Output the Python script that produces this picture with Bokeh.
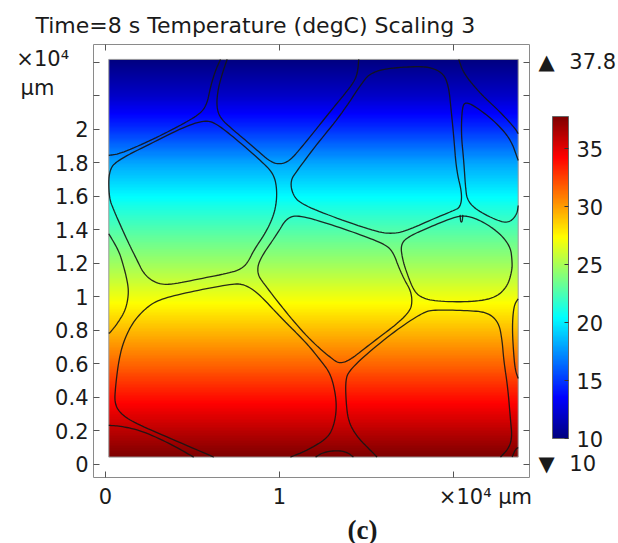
import numpy as np
from bokeh.plotting import figure
from bokeh.models import (LinearColorMapper, ColorBar, FixedTicker, LinearAxis,
                          Title, Range1d)
from bokeh.embed import file_html
from bokeh.resources import INLINE

# ---------------- data ----------------
title_text = "Time=8 s Temperature (degC) Scaling 3"
panel_tag = "(c)"
# two blank lines lift the unit block below the frame top; trailing spaces align it
unit_y = "\u2003\n\u2003\n\u00d710\u2074\n\u03bcm\u2002\u2009"
unit_x = "\u00d710\u2074 \u03bcm"
t_min, t_max = 10.0, 37.8

# temperature (x10^4 um)
profile_y = [0.044, 0.2, 0.4, 0.6, 0.8, 1.0, 1.2, 1.4, 1.6, 1.8, 2.0, 2.2, 2.418]
profile_T = [37.8, 36.1, 33.8, 31.5, 29.2, 26.9, 24.7, 22.6, 20.4, 18.0, 14.8, 12.0, 10.0]

domain_x = [0.019, 2.372]
domain_y = [0.044, 2.418]

x_ticks = [0, 1, 2]
x_tick_labels = ["0", "1", "\u2007" * 4 + "\u2002" + unit_x]
y_ticks = [0, 0.2, 0.4, 0.6, 0.8, 1, 1.2, 1.4, 1.6, 1.8, 2]
y_tick_labels = ["0", "0.2", "0.4", "0.6", "0.8", "1", "1.2", "1.4", "1.6", "1.8", "2"]
y_ticks_unlabeled = [2.2, 2.4]
cbar_ticks = [10, 15, 20, 25, 30, 35]
range_ticks = [0, 2.4]
range_labels = ["\u25bc\u2002\u2009" + "10", "\u25b2\u2002\u2009" + "37.8"]

# grain boundaries (x, y) in x10^4 um
grain_a = [(0.019, 1.845), (0.086, 1.855), (0.259, 1.934), (0.431, 2.024), (0.546, 2.094),
           (0.584, 2.153), (0.603, 2.253), (0.632, 2.352), (0.661, 2.418)]
grain_b = [(0.699, 2.418), (0.671, 2.333), (0.645, 2.233), (0.638, 2.133), (0.661, 2.064),
           (0.737, 1.994), (0.852, 1.894), (0.948, 1.805), (1.006, 1.791), (1.063, 1.815),
           (1.159, 1.934), (1.312, 2.133), (1.408, 2.253), (1.447, 2.322), (1.456, 2.418)]
grain_c = [(0.019, 1.765), (0.019, 1.596), (0.048, 1.516), (0.125, 1.337), (0.182, 1.218),
           (0.220, 1.138), (0.278, 1.088), (0.355, 1.069), (0.546, 1.109), (0.737, 1.148),
           (0.795, 1.178), (0.824, 1.218), (0.852, 1.278), (0.929, 1.397), (0.977, 1.516),
           (0.987, 1.636), (0.967, 1.736), (0.891, 1.815), (0.737, 1.954), (0.632, 2.038),
           (0.575, 2.054), (0.470, 2.024), (0.259, 1.915), (0.086, 1.825)]
grain_d = [(1.102, 1.755), (1.217, 1.915), (1.351, 2.084), (1.484, 2.293), (1.523, 2.333),
           (1.599, 2.362), (1.772, 2.376), (1.868, 2.372), (1.944, 2.333), (1.973, 2.253),
           (1.987, 2.113), (2.002, 1.954), (2.017, 1.755), (2.050, 1.616), (2.040, 1.536),
           (2.002, 1.516), (1.887, 1.467), (1.734, 1.397), (1.657, 1.377), (1.561, 1.387),
           (1.312, 1.476), (1.121, 1.556), (1.073, 1.616), (1.063, 1.696)]
grain_top_right = [(2.030, 2.418), (2.059, 2.333), (2.155, 2.213), (2.270, 2.103),
                   (2.356, 2.004), (2.372, 1.974)]
grain_e = [(2.372, 1.815), (2.328, 1.944), (2.232, 2.054), (2.117, 2.143), (2.069, 2.163),
           (2.050, 2.133), (2.044, 1.974), (2.059, 1.815), (2.069, 1.656), (2.079, 1.576),
           (2.136, 1.516), (2.270, 1.447), (2.328, 1.447), (2.366, 1.497), (2.372, 1.546)]
grain_f = [(1.044, 1.476), (1.121, 1.487), (1.312, 1.427), (1.504, 1.357), (1.619, 1.307),
           (1.657, 1.258), (1.685, 1.178), (1.720, 1.099), (1.753, 1.039), (1.763, 0.979),
           (1.753, 0.919), (1.677, 0.840), (1.523, 0.720), (1.408, 0.625), (1.351, 0.603),
           (1.312, 0.621), (1.178, 0.740), (1.044, 0.900), (0.910, 1.079), (0.872, 1.138),
           (0.881, 1.218), (0.987, 1.377)]
grain_g = [(1.695, 1.318), (1.753, 1.367), (1.887, 1.427), (2.002, 1.476), (2.079, 1.487),
           (2.174, 1.447), (2.270, 1.377), (2.328, 1.297), (2.337, 1.218), (2.337, 1.158),
           (2.309, 1.059), (2.232, 0.989), (2.079, 0.969), (1.887, 0.975), (1.810, 0.999),
           (1.772, 1.039), (1.740, 1.120), (1.708, 1.218)]
grain_notch = [(2.038, 1.490), (2.041, 1.447), (2.050, 1.447), (2.054, 1.490)]
grain_h = [(0.622, 0.044), (0.355, 0.163), (0.161, 0.251), (0.086, 0.304), (0.052, 0.364),
           (0.057, 0.461), (0.076, 0.621), (0.105, 0.740), (0.163, 0.860), (0.259, 0.959),
           (0.355, 0.999), (0.546, 1.043), (0.737, 1.079), (0.795, 1.075), (0.872, 1.029),
           (1.006, 0.879), (1.159, 0.721), (1.236, 0.621), (1.293, 0.543), (1.322, 0.424),
           (1.328, 0.322), (1.310, 0.223), (1.274, 0.155), (1.159, 0.084), (1.063, 0.044)]
grain_i = [(0.019, 0.233), (0.086, 0.229), (0.201, 0.203), (0.355, 0.133), (0.507, 0.044)]
grain_l = [(1.207, 0.044), (1.253, 0.073), (1.332, 0.084), (1.389, 0.073), (1.425, 0.044)]
grain_j = [(1.561, 0.044), (1.523, 0.084), (1.447, 0.163), (1.397, 0.253), (1.383, 0.364),
           (1.379, 0.501), (1.400, 0.560), (1.523, 0.680), (1.695, 0.820), (1.829, 0.909),
           (1.887, 0.923), (2.079, 0.919), (2.194, 0.909), (2.260, 0.850), (2.280, 0.740),
           (2.289, 0.621), (2.312, 0.461), (2.328, 0.263), (2.337, 0.163), (2.318, 0.096),
           (2.270, 0.044)]
grain_k = [(2.372, 0.989), (2.347, 0.949), (2.337, 0.820), (2.347, 0.641), (2.356, 0.561),
           (2.372, 0.513)]
grain_m = [(2.337, 0.044), (2.356, 0.090), (2.372, 0.101)]
grain_n = [(0.019, 1.377), (0.075, 1.278), (0.098, 1.206), (0.125, 1.099), (0.134, 1.019),
           (0.115, 0.919), (0.067, 0.840), (0.029, 0.790), (0.019, 0.782)]

closed_grains = [grain_c, grain_d, grain_f, grain_g]
open_grains = [grain_a, grain_b, grain_top_right, grain_e, grain_notch, grain_h, grain_i,
               grain_l, grain_j, grain_k, grain_m, grain_n]

# ---------------- helpers ----------------
def jet(n=256):
    out = []
    for i in range(n):
        v = i / (n - 1)
        r = min(max(1.5 - abs(4 * v - 3), 0), 1)
        g = min(max(1.5 - abs(4 * v - 2), 0), 1)
        b = min(max(1.5 - abs(4 * v - 1), 0), 1)
        out.append("#%02x%02x%02x" % (int(r * 255), int(g * 255), int(b * 255)))
    return out


def smooth(pts, closed, iters=3):
    P = np.array(pts, float)
    for _ in range(iters):
        if closed:
            A, B = P, np.roll(P, -1, axis=0)
        else:
            A, B = P[:-1], P[1:]
        new = np.empty((2 * len(A), 2))
        new[0::2] = 0.75 * A + 0.25 * B
        new[1::2] = 0.25 * A + 0.75 * B
        if not closed:
            new = np.vstack([P[0], new, P[-1]])
        P = new
    if closed:
        P = np.vstack([P, P[:1]])
    return P[:, 0].tolist(), P[:, 1].tolist()


# ---------------- figure ----------------
FONT = "DejaVu Sans"
TXT = "#1a1a1a"
TICK = "#555555"
FS = "21px"

p = figure(frame_width=436, frame_height=433,
           min_border_left=93, min_border_right=89, min_border_top=44, min_border_bottom=66,
           x_range=Range1d(-0.069, 2.437), y_range=Range1d(-0.078, 2.507),
           output_backend="svg", toolbar_location=None, title=title_text)
p.grid.visible = False
p.outline_line_color = "#8a8a8a"
p.outline_line_width = 1
p.background_fill_color = "white"
p.border_fill_color = "white"

p.title.align = "left"
p.title.offset = -58
p.title.standoff = 13
p.title.text_font = FONT
p.title.text_font_size = "22px"
p.title.text_font_style = "normal"
p.title.text_color = TXT

mapper = LinearColorMapper(palette=jet(), low=t_min, high=t_max)

yy = np.linspace(domain_y[0], domain_y[1], 400)
col = np.interp(yy, profile_y, profile_T)
field = np.tile(col[:, None], (1, 2))
p.image(image=[field], x=domain_x[0], y=domain_y[0],
        dw=domain_x[1] - domain_x[0], dh=domain_y[1] - domain_y[0], color_mapper=mapper)
p.quad(left=domain_x[0], right=domain_x[1], bottom=domain_y[0], top=domain_y[1],
       fill_color=None, line_color="#9a9a9a", line_width=1)

xs, ys = [], []
for g in closed_grains:
    a, b = smooth(g, True)
    xs.append(a); ys.append(b)
for g in open_grains:
    a, b = smooth(g, False)
    xs.append(a); ys.append(b)
p.multi_line(xs=xs, ys=ys, line_color="#151515", line_width=1.3, line_alpha=0.9)

# axes
xb = p.xaxis[0]
yl = p.yaxis[0]
xt = LinearAxis()
yr = LinearAxis()
p.add_layout(xt, "above")
p.add_layout(yr, "right")
xb.ticker = FixedTicker(ticks=x_ticks)
xt.ticker = FixedTicker(ticks=[], minor_ticks=x_ticks)
yl.ticker = FixedTicker(ticks=y_ticks, minor_ticks=y_ticks_unlabeled)
yr.ticker = FixedTicker(ticks=range_ticks,
                        minor_ticks=[t for t in y_ticks + y_ticks_unlabeled if t not in range_ticks])
for ax in (xb, xt, yl, yr):
    ax.major_tick_in = 6
    ax.major_tick_out = 0
    ax.minor_tick_in = 6
    ax.minor_tick_out = 0
    ax.axis_line_color = None
    ax.major_tick_line_color = TICK
    ax.minor_tick_line_color = TICK
    ax.major_label_text_font = FONT
    ax.major_label_text_font_size = FS
    ax.major_label_text_color = TXT
    ax.axis_label_text_font = FONT
    ax.axis_label_text_font_size = FS
    ax.axis_label_text_font_style = "normal"
    ax.axis_label_text_color = TXT
xt.major_label_text_color = None
xb.major_label_overrides = dict(zip(x_ticks, x_tick_labels))
yl.major_label_overrides = dict(zip(y_ticks, y_tick_labels))
yr.major_label_overrides = dict(zip(range_ticks, range_labels))
xb.major_label_standoff = 7
yl.major_label_standoff = 5
yr.major_label_standoff = 9

yl.axis_label = unit_y
yl.axis_label_orientation = "horizontal"
yl.axis_label_align = "end"
yl.axis_label_standoff = -17

cb = ColorBar(color_mapper=mapper, ticker=FixedTicker(ticks=cbar_ticks), location=(459, 39),
              width=16, height=322, padding=0, label_standoff=8,
              major_label_text_font=FONT, major_label_text_font_size=FS,
              major_label_text_color=TXT, major_tick_in=4, major_tick_out=0,
              major_tick_line_color="#333333", bar_line_color="#666666",
              border_line_color=None, background_fill_alpha=0)
p.add_layout(cb, "center")

p.add_layout(Title(text=panel_tag, align="left", offset=254, standoff=2,
                   text_font="Liberation Serif", text_font_style="bold",
                   text_font_size="27px", text_color=TXT), "below")

open("out.html", "w").write(file_html(p, INLINE))
